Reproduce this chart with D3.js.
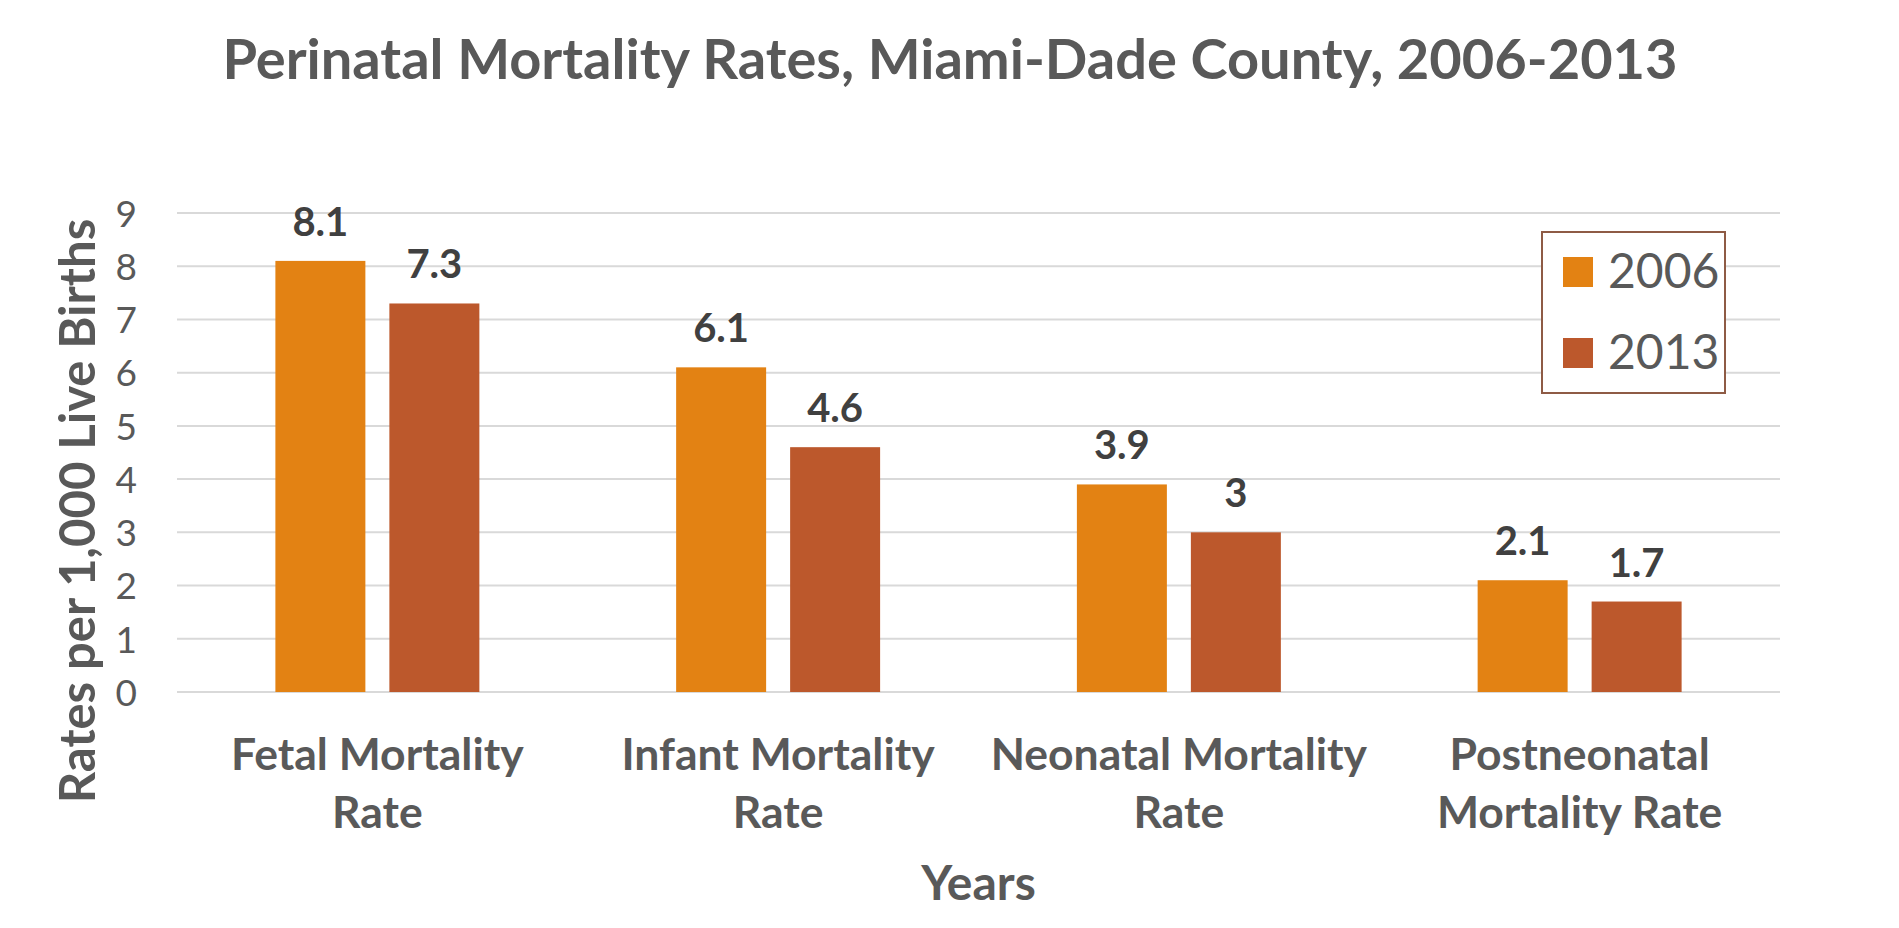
<!DOCTYPE html>
<html>
<head>
<meta charset="utf-8">
<script src="https://cdn.jsdelivr.net/npm/d3@7"></script>
<style>
    body { margin: 0; background: #ffffff; }
    svg text { font-family: Lato, "Open Sans", sans-serif; }
</style>
</head>
<body>
<div id="chart"></div>
<script>
// data
const categories = [
    ["Fetal Mortality", "Rate"],
    ["Infant Mortality", "Rate"],
    ["Neonatal Mortality", "Rate"],
    ["Postneonatal", "Mortality Rate"]
];
const seriesNames = ["2006", "2013"];
const values2006 = [8.1, 6.1, 3.9, 2.1];
const values2013 = [7.3, 4.6, 3, 1.7];
const yTicks = [0, 1, 2, 3, 4, 5, 6, 7, 8, 9];

const colors = ["#E38213", "#BC582C"];

const width = 1899,
    height = 928,
    margin = {left: 177, right: 119, top: 213, bottom: 236};

const chartWidth = width - margin.left - margin.right;
const chartHeight = height - margin.top - margin.bottom;

const svg = d3.select("#chart")
    .append("svg")
    .attr("width", width)
    .attr("height", height);

const xScale = d3.scaleBand()
    .domain(categories.map((d, i) => i))
    .range([0, chartWidth])
    .padding(0);

const yScale = d3.scaleLinear()
    .domain([0, 9])
    .range([chartHeight, 0]);

// bar layout inside a band (gap width ~219%, overlap ~-27%)
const barW = xScale.bandwidth() * 90 / 400.8;
const barGap = xScale.bandwidth() * 24 / 400.8;
const groupW = barW * 2 + barGap;

const plot = svg.append("g")
    .attr("transform", "translate(" + margin.left + "," + margin.top + ")");

// gridlines
plot.append("g")
    .selectAll("line")
    .data(yTicks)
    .join("line")
    .attr("x1", 0)
    .attr("x2", chartWidth)
    .attr("y1", d => yScale(d))
    .attr("y2", d => yScale(d))
    .attr("stroke", "#D9D9D9")
    .attr("stroke-width", 2);

// y axis labels
const yAxis = d3.axisLeft(yScale).tickValues(yTicks).tickSize(0).tickPadding(40);
plot.append("g")
    .attr("class", "axis y")
    .call(yAxis)
    .call(g => g.select(".domain").remove())
    .call(g => g.selectAll("text")
        .attr("fill", "#595959")
        .attr("font-size", 37)
        .attr("dy", "0.36em"));

// bars
const series = [values2006, values2013];
series.forEach((vals, s) => {
    const g = plot.append("g");
    const xPos = (i) => xScale(i) + (xScale.bandwidth() - groupW) / 2 + s * (barW + barGap);

    g.selectAll("rect")
        .data(vals)
        .join("rect")
        .attr("x", (d, i) => xPos(i))
        .attr("y", d => yScale(d))
        .attr("width", barW)
        .attr("height", d => chartHeight - yScale(d))
        .attr("fill", colors[s]);

    g.selectAll("text")
        .data(vals)
        .join("text")
        .attr("x", (d, i) => xPos(i) + barW / 2)
        .attr("y", d => yScale(d) - 25)
        .attr("text-anchor", "middle")
        .attr("font-size", 40)
        .attr("font-weight", "bold")
        .attr("fill", "#404040")
        .text(d => d);
});

// category labels
const catG = plot.append("g");
categories.forEach((lines, i) => {
    lines.forEach((line, j) => {
        catG.append("text")
            .attr("x", xScale(i) + xScale.bandwidth() / 2)
            .attr("y", chartHeight + 78 + j * 58)
            .attr("text-anchor", "middle")
            .attr("font-size", 44.5)
            .attr("font-weight", "bold")
            .attr("fill", "#595959")
            .text(line);
    });
});

// titles
svg.append("text")
    .attr("x", 950)
    .attr("y", 79)
    .attr("text-anchor", "middle")
    .attr("font-size", 56)
    .attr("font-weight", "bold")
    .attr("fill", "#595959")
    .text("Perinatal Mortality Rates, Miami-Dade County, 2006-2013");

svg.append("text")
    .attr("x", margin.left + chartWidth / 2)
    .attr("y", 900)
    .attr("text-anchor", "middle")
    .attr("font-size", 48)
    .attr("font-weight", "bold")
    .attr("fill", "#595959")
    .text("Years");

svg.append("text")
    .attr("transform", "translate(95,511) rotate(-90)")
    .attr("text-anchor", "middle")
    .attr("font-size", 49)
    .attr("font-weight", "bold")
    .attr("fill", "#595959")
    .text("Rates per 1,000 Live Births");

// legend
const legend = svg.append("g")
    .attr("transform", "translate(1542,232)");

legend.append("rect")
    .attr("width", 183)
    .attr("height", 161)
    .attr("fill", "#ffffff")
    .attr("stroke", "#8E5B45")
    .attr("stroke-width", 2);

seriesNames.forEach((name, i) => {
    legend.append("rect")
        .attr("x", 21)
        .attr("y", 25 + i * 81)
        .attr("width", 30)
        .attr("height", 30)
        .attr("fill", colors[i]);
    legend.append("text")
        .attr("x", 66)
        .attr("y", 56 + i * 81)
        .attr("font-size", 48)
        .attr("fill", "#595959")
        .text(name);
});
</script>
</body>
</html>
